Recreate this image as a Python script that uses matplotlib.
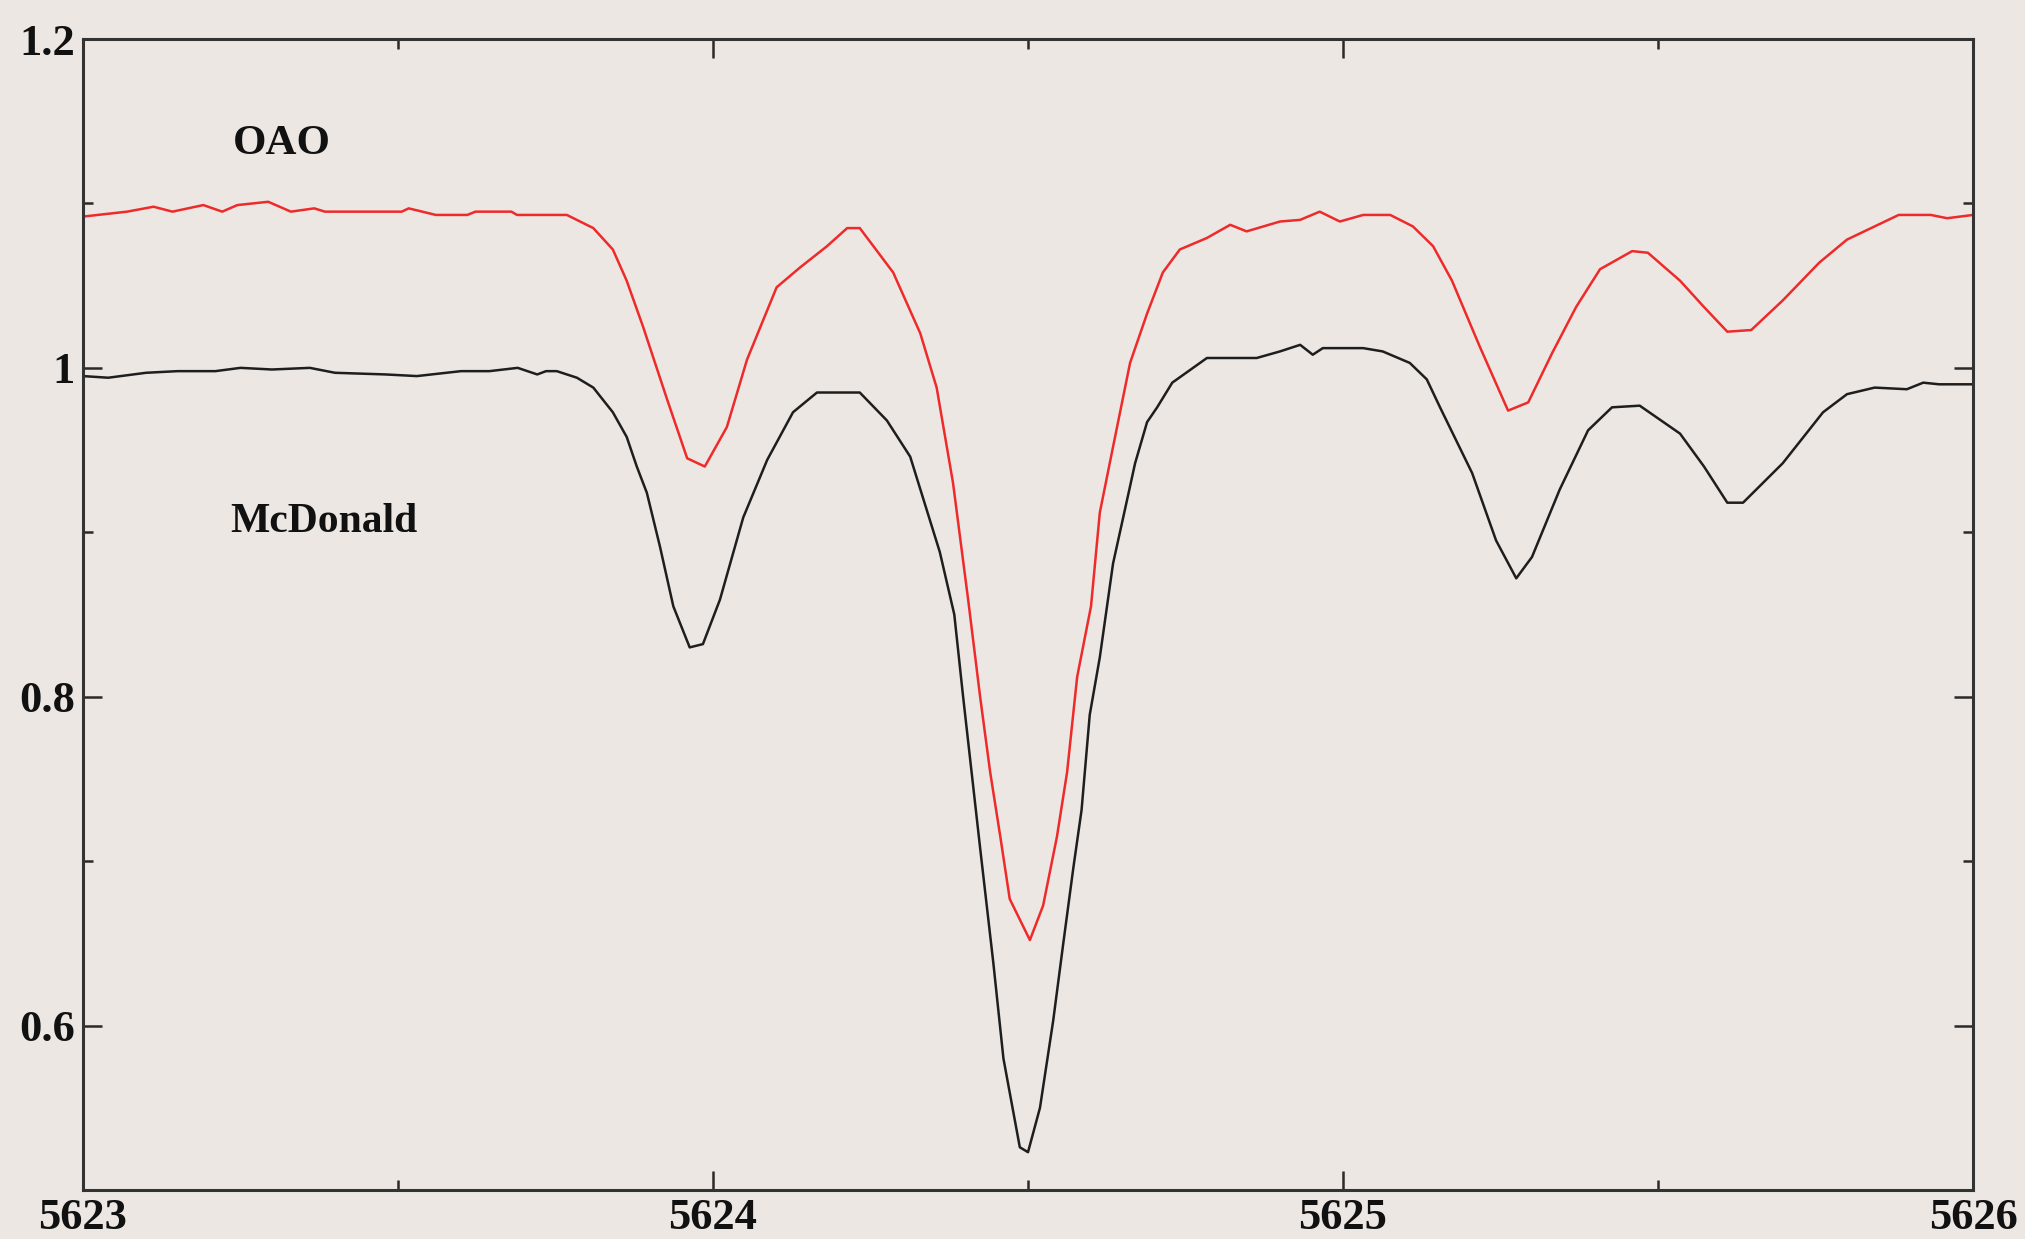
import matplotlib
matplotlib.use("Agg")
import matplotlib.pyplot as plt
from matplotlib.ticker import MultipleLocator, FixedLocator, FixedFormatter

# ---- data ----
oao_wave = [5623.000, 5623.070, 5623.112, 5623.142, 5623.191, 5623.221, 5623.245, 5623.294,
            5623.330, 5623.367, 5623.384, 5623.506, 5623.517, 5623.560, 5623.610, 5623.623,
            5623.680, 5623.689, 5623.768, 5623.810, 5623.841, 5623.863, 5623.889, 5623.927,
            5623.959, 5623.987, 5624.022, 5624.054, 5624.101, 5624.138, 5624.181, 5624.213,
            5624.233, 5624.286, 5624.329, 5624.355, 5624.381, 5624.405, 5624.424, 5624.440,
            5624.456, 5624.471, 5624.503, 5624.524, 5624.546, 5624.562, 5624.578, 5624.600,
            5624.614, 5624.635, 5624.662, 5624.689, 5624.714, 5624.741, 5624.784, 5624.821,
            5624.847, 5624.900, 5624.932, 5624.963, 5624.995, 5625.032, 5625.075, 5625.111,
            5625.143, 5625.173, 5625.217, 5625.262, 5625.294, 5625.332, 5625.370, 5625.408,
            5625.459, 5625.484, 5625.535, 5625.573, 5625.610, 5625.648, 5625.698, 5625.756,
            5625.800, 5625.882, 5625.933, 5625.959, 5626.000]
oao_flux = [1.092, 1.095, 1.098, 1.095, 1.099, 1.095, 1.099, 1.101,
            1.095, 1.097, 1.095, 1.095, 1.097, 1.093, 1.093, 1.095,
            1.095, 1.093, 1.093, 1.085, 1.072, 1.053, 1.025, 0.981,
            0.945, 0.940, 0.964, 1.005, 1.049, 1.061, 1.074, 1.085,
            1.085, 1.058, 1.021, 0.988, 0.930, 0.859, 0.800, 0.754,
            0.715, 0.677, 0.652, 0.673, 0.715, 0.754, 0.812, 0.855,
            0.912, 0.952, 1.003, 1.033, 1.058, 1.072, 1.079, 1.087,
            1.083, 1.089, 1.090, 1.095, 1.089, 1.093, 1.093, 1.086,
            1.074, 1.053, 1.013, 0.974, 0.979, 1.009, 1.037, 1.060,
            1.071, 1.070, 1.053, 1.037, 1.022, 1.023, 1.041, 1.064,
            1.078, 1.093, 1.093, 1.091, 1.093]

mcd_wave = [5623.000, 5623.040, 5623.100, 5623.150, 5623.210, 5623.250, 5623.300, 5623.360,
            5623.400, 5623.480, 5623.530, 5623.600, 5623.645, 5623.690, 5623.721, 5623.735,
            5623.752, 5623.784, 5623.810, 5623.841, 5623.863, 5623.879, 5623.895, 5623.916,
            5623.937, 5623.963, 5623.984, 5624.011, 5624.048, 5624.086, 5624.127, 5624.165,
            5624.233, 5624.276, 5624.313, 5624.360, 5624.383, 5624.397, 5624.424, 5624.445,
            5624.461, 5624.487, 5624.500, 5624.519, 5624.540, 5624.556, 5624.572, 5624.585,
            5624.598, 5624.614, 5624.635, 5624.662, 5624.670, 5624.689, 5624.705, 5624.729,
            5624.784, 5624.863, 5624.900, 5624.932, 5624.952, 5624.968, 5625.032, 5625.063,
            5625.106, 5625.133, 5625.154, 5625.205, 5625.243, 5625.275, 5625.300, 5625.344,
            5625.389, 5625.427, 5625.471, 5625.535, 5625.573, 5625.610, 5625.635, 5625.698,
            5625.762, 5625.800, 5625.844, 5625.895, 5625.921, 5625.946, 5626.000]
mcd_flux = [0.995, 0.994, 0.997, 0.998, 0.998, 1.000, 0.999, 1.000,
            0.997, 0.996, 0.995, 0.998, 0.998, 1.000, 0.996, 0.998,
            0.998, 0.994, 0.988, 0.973, 0.958, 0.940, 0.924, 0.891,
            0.855, 0.830, 0.832, 0.859, 0.909, 0.944, 0.973, 0.985,
            0.985, 0.968, 0.946, 0.888, 0.850, 0.800, 0.708, 0.638,
            0.580, 0.526, 0.523, 0.550, 0.603, 0.650, 0.696, 0.731,
            0.789, 0.824, 0.881, 0.928, 0.942, 0.967, 0.976, 0.991,
            1.006, 1.006, 1.010, 1.014, 1.008, 1.012, 1.012, 1.010,
            1.003, 0.993, 0.976, 0.936, 0.895, 0.872, 0.885, 0.926,
            0.962, 0.976, 0.977, 0.960, 0.940, 0.918, 0.918, 0.942,
            0.973, 0.984, 0.988, 0.987, 0.991, 0.990, 0.990]

x_ticks = [5623, 5624, 5625, 5626]
x_tick_labels = ["5623", "5624", "5625", "5626"]
y_ticks = [0.6, 0.8, 1.0, 1.2]
y_tick_labels = ["0.6", "0.8", "1", "1.2"]

labels = ["OAO", "McDonald"]

# ---- figure ----
bg = "#ECE7E3"
fig = plt.figure(figsize=(20.25, 12.39), dpi=100, facecolor=bg)
ax = fig.add_axes([83 / 2025, 1 - 1190 / 1239, (1973 - 83) / 2025, (1190 - 39) / 1239])
ax.set_facecolor(bg)

ax.plot(oao_wave, oao_flux, color="#EE2A2A", lw=1.8)
ax.plot(mcd_wave, mcd_flux, color="#1E1E1E", lw=1.8)

ax.set_xlim(5623, 5626)
ax.set_ylim(0.5, 1.2)

font = dict(family=["Liberation Serif", "DejaVu Serif"], weight="bold")

ax.xaxis.set_major_locator(FixedLocator(x_ticks))
ax.xaxis.set_major_formatter(FixedFormatter(x_tick_labels))
ax.xaxis.set_minor_locator(MultipleLocator(0.5))
ax.yaxis.set_major_locator(FixedLocator(y_ticks))
ax.yaxis.set_major_formatter(FixedFormatter(y_tick_labels))
ax.yaxis.set_minor_locator(MultipleLocator(0.1))

ax.tick_params(which="both", direction="in", top=True, right=True, color="#2a2a2a", width=1.8)
ax.tick_params(which="major", length=14, pad=6)
ax.tick_params(which="minor", length=7)
for lab in ax.get_xticklabels() + ax.get_yticklabels():
    lab.set_fontfamily(font["family"])
    lab.set_fontweight("bold")
    lab.set_fontsize(32)
    lab.set_color("#111111")

for s in ax.spines.values():
    s.set_linewidth(2.2)
    s.set_color("#333333")

ax.text(5623.238, 1.1362, labels[0], fontsize=31, va="center", ha="left", color="#111111", **font)
ax.text(5623.233, 0.9060, labels[1], fontsize=30, va="center", ha="left", color="#111111", **font)

fig.savefig("out.png", dpi=100, facecolor=bg)
